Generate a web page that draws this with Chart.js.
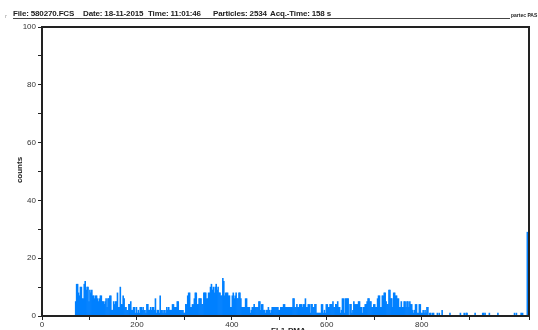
<!DOCTYPE html>
<html>
<head>
<meta charset="utf-8">
<script src="https://cdn.jsdelivr.net/npm/chart.js@4.4.0/dist/chart.umd.min.js"></script>
<style>
  html, body { margin: 0; padding: 0; background: #fff; width: 538px; height: 330px; overflow: hidden; }
  #wrap { position: relative; width: 538px; height: 330px; font-family: 'Liberation Sans', Arial, sans-serif; color: #222; }
  #wrap canvas { position: absolute; left: 0; top: 0; }
  .t { position: absolute; white-space: nowrap; font-weight: bold; font-size: 8px; line-height: 8px; }
  .hdr { top: 10px; letter-spacing: -0.15px; }
  #rule { position: absolute; left: 13px; top: 18px; width: 497px; height: 1px; background: #444; }
</style>
</head>
<body>
<div id="wrap">
  <canvas id="hist" width="538" height="330"></canvas>
  <div class="t" style="left:5px; top:12px; font-size:6px; color:#999; font-weight:normal;">r</div>
  <div class="t hdr" style="left:13px;">File: 580270.FCS</div>
  <div class="t hdr" style="left:83px;">Date: 18-11-2015</div>
  <div class="t hdr" style="left:148px;">Time: 11:01:46</div>
  <div class="t hdr" style="left:213px;">Particles: 2534</div>
  <div class="t hdr" style="left:270px;">Acq.-Time: 158 s</div>
  <div id="rule"></div>
  <div class="t" style="left:511px; top:13px; font-size:5px; line-height:5px;">partec PAS</div>
  <div class="t" style="left:4px; top:166px; width:32px; text-align:center; transform:rotate(-90deg);">counts</div>
  <div class="t" style="left:271px; top:327px;">FL1-PMA</div>
</div>
<script>
// Histogram: counts per channel in bins of 2 channels
const binStart = 70;
const binWidth = 2;
const binCounts = [
  5, 11, 11, 8, 7, 10, 10, 6, 6, 11,     // 70-88
  12, 9, 10, 10, 5, 9, 8, 9, 7, 7,       // 90-108
  6, 7, 7, 6, 5, 6, 7, 7, 5, 5,          // 110-128
  4, 5, 6, 3, 6, 6, 7, 7, 2, 2,          // 130-148
  5, 4, 5, 5, 8, 3, 3, 10, 4, 4,         // 150-168
  7, 6, 3, 3, 2, 2, 4, 4, 5, 2,          // 170-188
  2, 3, 3, 1, 3, 1, 2, 1, 3, 3,          // 190-208
  2, 3, 2, 2, 1, 4, 4, 2, 2, 3,          // 210-228
  2, 3, 3, 2, 6, 1, 2, 2, 1, 7,          // 230-248
  2, 2, 1, 2, 2, 1, 3, 2, 3, 2,          // 250-268
  2, 2, 4, 4, 3, 3, 3, 5, 5, 2,          // 270-288
  2, 2, 2, 2, 1, 1, 4, 4, 7, 8,          // 290-308
  8, 3, 3, 4, 4, 6, 8, 8, 4, 4,          // 310-328
  6, 6, 6, 4, 4, 8, 8, 8, 6, 6,          // 330-348
  8, 8, 10, 11, 9, 10, 8, 10, 11, 9,     // 350-368
  10, 8, 8, 7, 7, 13, 12, 7, 8, 8,       // 370-388
  8, 7, 7, 3, 3, 7, 8, 6, 7, 8,          // 390-408
  6, 6, 8, 8, 6, 3, 3, 3, 3, 6,          // 410-428
  6, 3, 3, 3, 1, 2, 3, 3, 4, 3,          // 430-448
  3, 3, 3, 5, 5, 2, 4, 4, 2, 2,          // 450-468
  1, 2, 2, 3, 2, 1, 2, 3, 3, 3,          // 470-488
  3, 3, 3, 3, 2, 2, 3, 3, 3, 4,          // 490-508
  4, 3, 3, 3, 3, 3, 3, 3, 3, 6,          // 510-528
  6, 3, 3, 4, 3, 3, 4, 4, 4, 3,          // 530-548
  4, 4, 6, 3, 3, 4, 4, 1, 4, 4,          // 550-568
  3, 3, 4, 4, 1, 1, 1, 1, 1, 4,          // 570-588
  4, 1, 2, 1, 4, 4, 3, 3, 4, 4,          // 590-608
  4, 5, 3, 3, 4, 4, 5, 3, 3, 1,          // 610-628
  2, 6, 6, 1, 6, 6, 6, 6, 0, 4,          // 630-648
  4, 1, 2, 5, 4, 4, 4, 4, 5, 5,          // 650-668
  3, 3, 1, 3, 3, 4, 4, 5, 6, 6,          // 670-688
  5, 5, 3, 3, 4, 4, 3, 3, 6, 7,          // 690-708
  7, 3, 3, 7, 7, 8, 8, 5, 4, 4,          // 710-728
  9, 9, 6, 6, 3, 8, 8, 7, 7, 6,          // 730-748
  6, 3, 3, 5, 3, 3, 5, 5, 3, 5,          // 750-768
  5, 3, 5, 4, 4, 2, 1, 2, 4, 4,          // 770-788
  1, 1, 4, 4, 1, 1, 2, 1, 2, 1,          // 790-808
  3, 3, 0, 1, 1, 0, 1, 1, 0, 0,          // 810-828
  0, 1, 0, 1, 0, 0, 2                    // 830-842
];
// sparse single events in the tail, last one is the overflow channel
const tailChannels = [859, 881, 889, 893, 895, 912, 928, 930, 933, 942, 960, 995, 999, 1009, 1012, 1022];
const tailCounts   = [1, 1, 1, 1, 1, 1, 1, 1, 1, 1, 1, 1, 1, 1, 1, 29];

const xMax = 1026, xStep = 100, xLabelStep = 200;
const yMax = 100, yStep = 10, yLabelStep = 20;

const points = binCounts.map((c, i) => ({ x: binStart + i * binWidth + binWidth / 2, y: c }))
  .concat(tailChannels.map((ch, i) => ({ x: ch + 0.5, y: tailCounts[i] })));

const tickFont = { family: "'Liberation Sans', Arial, sans-serif", size: 8 };

const frame = {
  id: 'frame',
  afterDraw(chart) {
    const { ctx, chartArea: a } = chart;
    ctx.save();
    ctx.strokeStyle = '#222';
    ctx.lineWidth = 2;
    ctx.strokeRect(a.left, a.top, a.right - a.left, a.bottom - a.top);
    ctx.restore();
  }
};

new Chart(document.getElementById('hist'), {
  type: 'bar',
  data: {
    datasets: [{
      data: points,
      backgroundColor: '#0080ff',
      borderWidth: 0,
      barPercentage: 1,
      categoryPercentage: 1,
    }]
  },
  options: {
    responsive: false, animation: false, devicePixelRatio: 1,
    layout: { padding: { top: 27, right: 9, left: 0, bottom: 0 } },
    plugins: { legend: { display: false }, tooltip: { enabled: false } },
    scales: {
      x: {
        type: 'linear', min: 0, max: xMax, offset: false,
        ticks: {
          stepSize: xStep, autoSkip: false, maxRotation: 0, padding: 0,
          font: tickFont, color: '#333',
          callback: v => v % xLabelStep === 0 ? v : ''
        },
        grid: { offset: false, drawOnChartArea: false, drawTicks: true, tickLength: 4, color: '#222' },
        border: { display: false },
        afterFit: s => { s.height = 14; }
      },
      y: {
        min: 0, max: yMax,
        ticks: {
          stepSize: yStep, autoSkip: false, padding: 2,
          font: tickFont, color: '#333',
          callback: v => v % yLabelStep === 0 ? v : ''
        },
        grid: { drawOnChartArea: false, drawTicks: true, tickLength: 4, color: '#222' },
        border: { display: false },
        afterFit: s => { s.width = 42; }
      }
    }
  },
  plugins: [frame]
});
</script>
</body>
</html>
